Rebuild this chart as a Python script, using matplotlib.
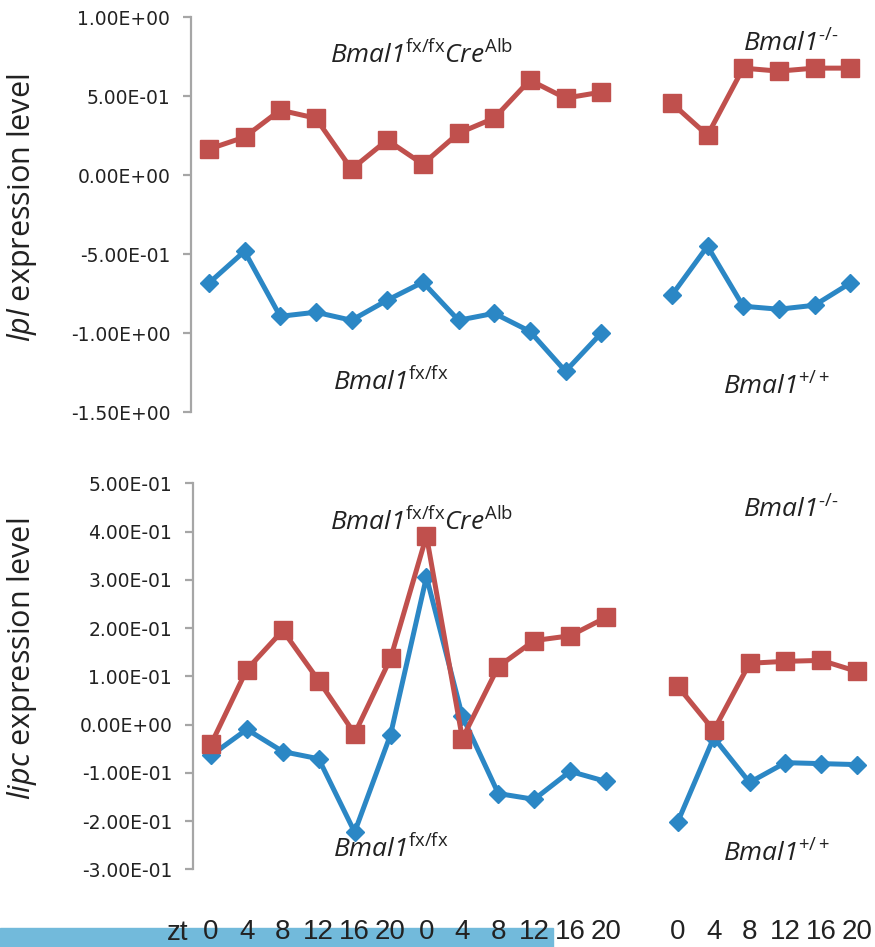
import matplotlib
matplotlib.use('Agg')
import matplotlib.pyplot as plt
from matplotlib.patches import Rectangle

# zeitgeber time labels
zt_labels = ['0', '4', '8', '12', '16', '20', '0', '4', '8', '12', '16', '20']
zt_ko_labels = ['0', '4', '8', '12', '16', '20']

# lpl expression
lpl_cko = [0.165, 0.241, 0.412, 0.361, 0.038, 0.222, 0.070, 0.266, 0.361, 0.602, 0.488, 0.526]
lpl_fx = [-0.684, -0.482, -0.894, -0.868, -0.919, -0.792, -0.678, -0.919, -0.875, -0.989, -1.242, -1.001]
lpl_ko = [0.456, 0.253, 0.678, 0.659, 0.678, 0.678]
lpl_wt = [-0.760, -0.450, -0.830, -0.849, -0.824, -0.684]

# lipc expression
lipc_cko = [-0.041, 0.114, 0.195, 0.091, -0.019, 0.137, 0.391, -0.029, 0.120, 0.174, 0.184, 0.222]
lipc_fx = [-0.064, -0.010, -0.056, -0.071, -0.223, -0.021, 0.306, 0.017, -0.143, -0.155, -0.097, -0.118]
lipc_ko = [0.079, -0.012, 0.127, 0.131, 0.133, 0.110]
lipc_wt = [-0.201, -0.027, -0.120, -0.079, -0.081, -0.083]

red = '#C0504D'
blue = '#2B87C5'
grey = '#A6A6A6'

# italic gene names (digits too), upright superscripts via \mathsf
plt.rcParams['mathtext.fontset'] = 'custom'
plt.rcParams['mathtext.it'] = 'Open Sans:italic'
plt.rcParams['mathtext.rm'] = 'Open Sans:italic'
plt.rcParams['mathtext.sf'] = 'Open Sans'

W, H = 875, 947
fig = plt.figure(figsize=(W / 100, H / 100), dpi=100)


# pixel box -> figure fraction
def box(l, t, r, b):
    return [l / W, 1 - b / H, (r - l) / W, (b - t) / H]


def draw(ax, red_vals, blue_vals):
    x = range(len(red_vals))
    ax.plot(x, blue_vals, color=blue, lw=3.6, marker='D', ms=9, clip_on=False, zorder=3)
    ax.plot(x, red_vals, color=red, lw=3.6, marker='s', ms=13, clip_on=False, zorder=4)
    ax.set_xlim(-0.5, len(red_vals) - 0.5)
    ax.set_facecolor('none')
    for s in ['top', 'right', 'bottom']:
        ax.spines[s].set_visible(False)


def style_left(ax):
    ax.spines['left'].set_color(grey)
    ax.spines['left'].set_linewidth(1.6)
    ax.tick_params(axis='y', color=grey, width=1.6, length=6, labelsize=13.5,
                   labelcolor='#222222', pad=9)


# top row: lpl
ax1 = fig.add_axes(box(191, 17.3, 619, 412))
draw(ax1, lpl_cko, lpl_fx)
ax1.set_ylim(-1.5, 1.0)
ax1.set_yticks([1.0, 0.5, 0.0, -0.5, -1.0, -1.5])
ax1.set_yticklabels(['1.00E+00', '5.00E-01', '0.00E+00', '-5.00E-01', '-1.00E+00', '-1.50E+00'])
style_left(ax1)
ax1.set_xticks([])

ax2 = fig.add_axes(box(654, 17.3, 868, 412))
draw(ax2, lpl_ko, lpl_wt)
ax2.set_ylim(-1.5, 1.0)
ax2.axis('off')

# bottom row: lipc
ax3 = fig.add_axes(box(193, 483.3, 624, 869.3))
draw(ax3, lipc_cko, lipc_fx)
ax3.set_ylim(-0.3, 0.5)
yt = [0.5, 0.4, 0.3, 0.2, 0.1, 0.0, -0.1, -0.2, -0.3]
ax3.set_yticks(yt)
ax3.set_yticklabels(['5.00E-01', '4.00E-01', '3.00E-01', '2.00E-01', '1.00E-01',
                     '0.00E+00', '-1.00E-01', '-2.00E-01', '-3.00E-01'])
style_left(ax3)

ax4 = fig.add_axes(box(660, 483.3, 875, 869.3))
draw(ax4, lipc_ko, lipc_wt)
ax4.set_ylim(-0.3, 0.5)
ax4.spines['left'].set_visible(False)
ax4.set_yticks([])

xfont = dict(family=['Liberation Sans Narrow', 'Liberation Sans', 'DejaVu Sans'], size=20, color='#222222')
for ax, labs in [(ax3, zt_labels), (ax4, zt_ko_labels)]:
    ax.set_xticks(range(len(labs)))
    ax.set_xticklabels(labs, fontdict=xfont)
    ax.tick_params(axis='x', length=0, pad=36)

fig.text(178 / W, 1 - 933 / H, 'zt', ha='center', va='center', **xfont)

# blue bar under the labels
fig.add_artist(Rectangle((0, 0), 553 / W, 19 / H, transform=fig.transFigure,
                         color='#72BADB', zorder=-1))

# y labels
fig.text(22 / W, 1 - 208 / H, r'$\mathit{lpl}$ expression level', rotation=90,
         ha='center', va='center', family='Open Sans', size=22, color='#222222')
fig.text(22 / W, 1 - 659 / H, r'$\mathit{lipc}$ expression level', rotation=90,
         ha='center', va='center', family='Open Sans', size=22, color='#222222')

# genotype labels
cko = r'$Bmal1^{\mathsf{fx/fx}}Cre^{\mathsf{Alb}}$'
fxfx = r'$Bmal1^{\mathsf{fx/fx}}$'
ko = '$Bmal1^{\\mathsf{\u2010/\u2010}}$'
wt = r'$Bmal1^{\mathsf{+/+}}$'
tkw = dict(ha='left', va='baseline', size=19, color='#222222')
for txt, x, y in [(cko, 330, 63), (ko, 743, 52), (fxfx, 333, 390), (wt, 723, 395),
                  (cko, 330, 530), (ko, 743, 518), (fxfx, 333, 857), (wt, 723, 862)]:
    fig.text(x / W, 1 - y / H, txt, **tkw)

plt.savefig('out.png', dpi=100)
